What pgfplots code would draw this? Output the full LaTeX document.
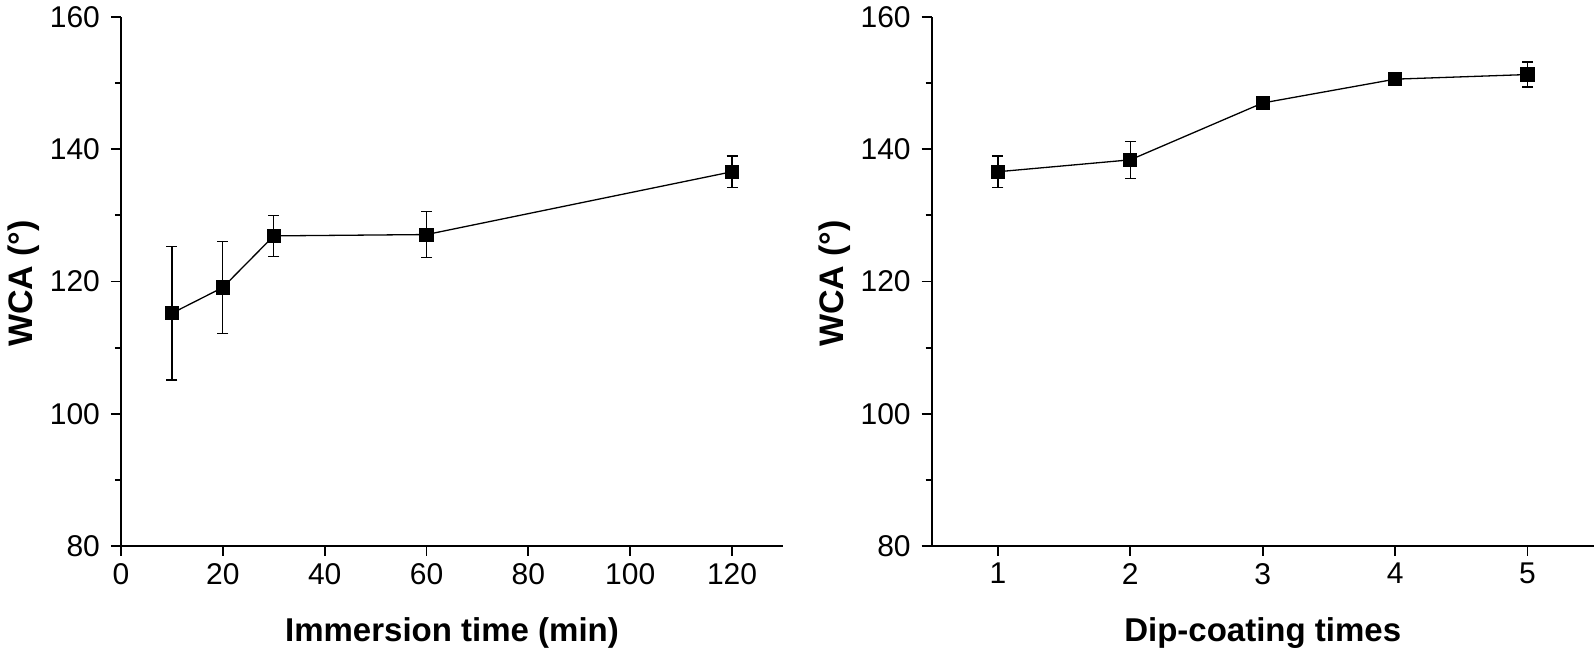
\documentclass[border=0pt]{standalone}
\usepackage{pgfplots}
\pgfplotsset{compat=1.18}
\usepackage{fontspec}
\setmainfont{Liberation Sans}
\begin{document}
\begin{tikzpicture}
\pgfplotsset{
  wca/.style={
    scale only axis,
    width=331pt, height=264.5pt,
    axis lines*=left,
    axis line style={line width=1pt},
    tick align=outside,
    major tick length=5pt,
    minor tick length=3pt,
    every tick/.style={line width=0.9pt, black},
    ymin=80, ymax=160,
    ytick={80,100,120,140,160},
    minor y tick num=1,
    /pgf/number format/assume math mode=true,
    tick label style={font=\fontsize{15}{17}\selectfont},
    yticklabel style={xshift=-2pt},
    every axis x label/.style={at={([yshift=-47.8pt]axis description cs:0.5,0)}, anchor=base, font=\bfseries\fontsize{16.5}{20}\selectfont},
    every axis y label/.style={at={([xshift=-48.75pt,yshift=-1pt]axis description cs:0,0.5)}, anchor=center, rotate=90, font=\bfseries\fontsize{17}{20}\selectfont},
    ylabel={WCA (°)},
    clip=false,
  },
  ser/.style={
    black, line width=0.65pt, mark=square*, mark size=3.2pt,
    mark options={solid, fill=black},
    error bars/.cd, y dir=both, y explicit,
    error bar style={line width=0.65pt, black},
    error mark options={rotate=90, mark size=2.75pt, line width=0.65pt, black},
  },
}
\begin{axis}[wca,
  xmin=0, xmax=130,
  xtick={0,20,40,60,80,100,120},
  xlabel={Immersion time (min)},
]
\addplot[ser] table[x=x, y=y, y error=e] {
x y e
10 115.2 10.1
20 119.1 7.0
30 126.9 3.1
60 127.1 3.45
120 136.6 2.4
};
\end{axis}
\begin{axis}[wca, xshift=405.35pt,
  xmin=0.5, xmax=5.5,
  xtick={1,2,3,4,5},
  xlabel={Dip-coating times},
]
\addplot[ser] table[x=x, y=y, y error=e] {
x y e
1 136.6 2.4
2 138.4 2.8
3 147.0 0.4
4 150.6 0.4
5 151.3 1.9
};
\end{axis}
\pgfresetboundingbox
\path[use as bounding box] (-60.5pt,-55.5pt) rectangle (736.5pt,273pt);
\end{tikzpicture}
\end{document}
